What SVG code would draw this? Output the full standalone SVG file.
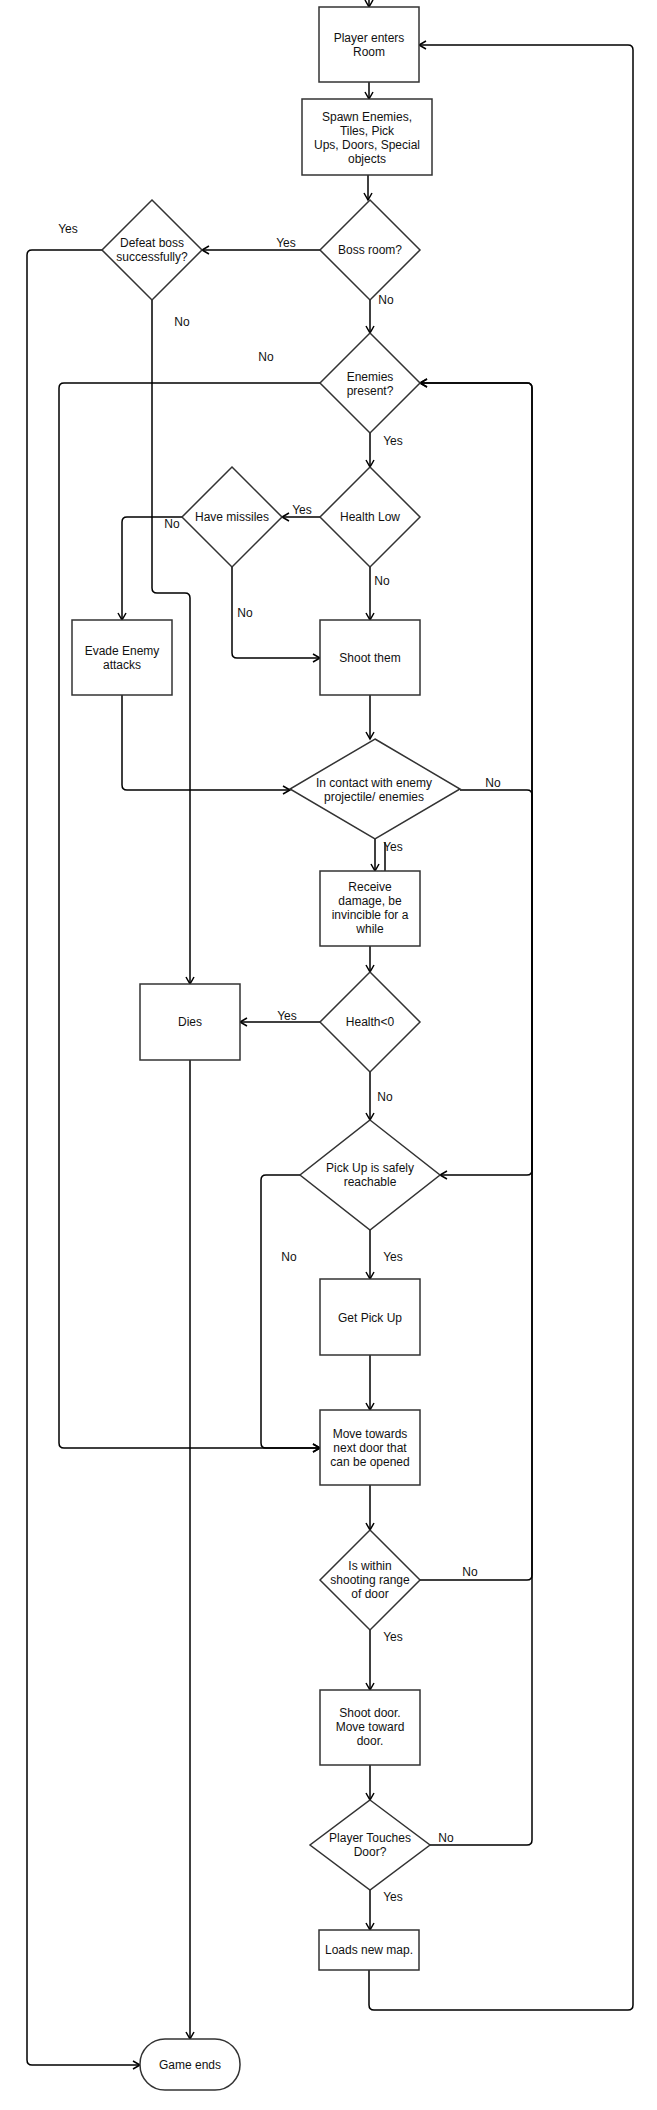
<svg xmlns="http://www.w3.org/2000/svg" width="657" height="2110" viewBox="0 0 657 2110">
<style>
.n{fill:#fff;stroke:#333;stroke-width:1.5}
.e{fill:none;stroke:#000;stroke-width:1.5}
.a{marker-end:url(#arr)}
text{font-family:"Liberation Sans",Arial,sans-serif;font-size:12px;fill:#111;text-anchor:middle}
</style>
<defs>
<marker id="arr" markerUnits="userSpaceOnUse" markerWidth="12" markerHeight="12" refX="8" refY="5" orient="auto">
<path d="M1,1 L8,5 L1,9" fill="none" stroke="#000" stroke-width="1.5"/>
</marker>
</defs>
<rect width="657" height="2110" fill="#fff"/>
<g id="connectors">
<path class="e a" d="M369 0 L369 7"/>
<path class="e a" d="M369 82 L369 99"/>
<path class="e a" d="M368 175 L368 200"/>
<path class="e a" d="M320 250 L202 250"/>
<path class="e a" d="M370 300 L370 333"/>
<path class="e a" d="M102 250 L32 250 Q27 250 27 255 L27 2060 Q27 2065 32 2065 L140 2065"/>
<path class="e a" d="M152 300 L152 588 Q152 593 157 593 L185 593 Q190 593 190 598 L190 984"/>
<path class="e a" d="M320 383 L64 383 Q59 383 59 388 L59 1443 Q59 1448 64 1448 L320 1448"/>
<path class="e a" d="M370 433 L370 467"/>
<path class="e a" d="M320 517 L282 517"/>
<path class="e a" d="M182 517 L127 517 Q122 517 122 522 L122 620"/>
<path class="e a" d="M232 567 L232 653 Q232 658 237 658 L320 658"/>
<path class="e a" d="M370 567 L370 620"/>
<path class="e a" d="M370 695 L370 739"/>
<path class="e a" d="M122 695 L122 785 Q122 790 127 790 L290 790"/>
<path class="e a" d="M375 839 L375 871"/>
<path class="e a" d="M385 842 L385 878"/>
<path class="e a" d="M460 790 L527 790 Q532 790 532 795 L532 1170 Q532 1175 527 1175 L440 1175"/>
<path class="e a" d="M370 946 L370 972"/>
<path class="e a" d="M320 1022 L240 1022"/>
<path class="e a" d="M370 1072 L370 1120"/>
<path class="e a" d="M301 1175 L266 1175 Q261 1175 261 1180 L261 1443 Q261 1448 266 1448 L320 1448"/>
<path class="e a" d="M370 1230 L370 1279"/>
<path class="e a" d="M370 1355 L370 1410"/>
<path class="e a" d="M370 1485 L370 1530"/>
<path class="e a" d="M420 1580 L527 1580 Q532 1580 532 1575 L532 388 Q532 383 527 383 L420 383"/>
<path class="e a" d="M370 1630 L370 1690"/>
<path class="e a" d="M370 1765 L370 1800"/>
<path class="e a" d="M430 1845 L527 1845 Q532 1845 532 1840 L532 388 Q532 383 527 383 L420 383"/>
<path class="e a" d="M370 1890 L370 1930"/>
<path class="e a" d="M369 1970 L369 2005 Q369 2010 374 2010 L628 2010 Q633 2010 633 2005 L633 50 Q633 45 628 45 L419 45"/>
<path class="e a" d="M190 1060 L190 2039"/>
</g>
<g id="edge-labels">
<text x="286" y="247">Yes</text>
<text x="68" y="233">Yes</text>
<text x="386" y="304">No</text>
<text x="182" y="326">No</text>
<text x="266" y="361">No</text>
<text x="393" y="445">Yes</text>
<text x="302" y="514">Yes</text>
<text x="172" y="528">No</text>
<text x="245" y="617">No</text>
<text x="382" y="585">No</text>
<text x="493" y="787">No</text>
<text x="393" y="851">Yes</text>
<text x="287" y="1020">Yes</text>
<text x="385" y="1101">No</text>
<text x="289" y="1261">No</text>
<text x="393" y="1261">Yes</text>
<text x="470" y="1576">No</text>
<text x="393" y="1641">Yes</text>
<text x="446" y="1842">No</text>
<text x="393" y="1901">Yes</text>
</g>
<g id="player-enters-room">
<rect class="n" x="319" y="7" width="100" height="75"/>
<text x="369" y="42">Player enters</text>
<text x="369" y="56">Room</text>
</g>
<g id="spawn">
<rect class="n" x="302" y="99" width="130" height="76"/>
<text x="367" y="121">Spawn Enemies,</text>
<text x="367" y="135">Tiles, Pick</text>
<text x="367" y="149">Ups, Doors, Special</text>
<text x="367" y="163">objects</text>
</g>
<g id="boss-room">
<polygon class="n" points="370,200 420,250 370,300 320,250"/>
<text x="370" y="254">Boss room?</text>
</g>
<g id="defeat-boss">
<polygon class="n" points="152,200 202,250 152,300 102,250"/>
<text x="152" y="247">Defeat boss</text>
<text x="152" y="261">successfully?</text>
</g>
<g id="enemies-present">
<polygon class="n" points="370,333 420,383 370,433 320,383"/>
<text x="370" y="381">Enemies</text>
<text x="370" y="395">present?</text>
</g>
<g id="health-low">
<polygon class="n" points="370,467 420,517 370,567 320,517"/>
<text x="370" y="521">Health Low</text>
</g>
<g id="have-missiles">
<polygon class="n" points="232,467 282,517 232,567 182,517"/>
<text x="232" y="521">Have missiles</text>
</g>
<g id="evade">
<rect class="n" x="72" y="620" width="100" height="75"/>
<text x="122" y="655">Evade Enemy</text>
<text x="122" y="669">attacks</text>
</g>
<g id="shoot-them">
<rect class="n" x="320" y="620" width="100" height="75"/>
<text x="370" y="662">Shoot them</text>
</g>
<g id="in-contact">
<polygon class="n" points="375,739 460,789 375,839 290,789"/>
<text x="374" y="787">In contact with enemy</text>
<text x="374" y="801">projectile/ enemies</text>
</g>
<g id="receive-damage">
<rect class="n" x="320" y="871" width="100" height="75"/>
<text x="370" y="891">Receive</text>
<text x="370" y="905">damage, be</text>
<text x="370" y="919">invincible for a</text>
<text x="370" y="933">while</text>
</g>
<g id="health-below-zero">
<polygon class="n" points="370,972 420,1022 370,1072 320,1022"/>
<text x="370" y="1026">Health&lt;0</text>
</g>
<g id="dies">
<rect class="n" x="140" y="984" width="100" height="76"/>
<text x="190" y="1026">Dies</text>
</g>
<g id="pickup-reachable">
<polygon class="n" points="370,1120 440,1175 370,1230 300,1175"/>
<text x="370" y="1172">Pick Up is safely</text>
<text x="370" y="1186">reachable</text>
</g>
<g id="get-pickup">
<rect class="n" x="320" y="1279" width="100" height="76"/>
<text x="370" y="1322">Get Pick Up</text>
</g>
<g id="move-towards">
<rect class="n" x="320" y="1410" width="100" height="75"/>
<text x="370" y="1438">Move towards</text>
<text x="370" y="1452">next door that</text>
<text x="370" y="1466">can be opened</text>
</g>
<g id="is-within-range">
<polygon class="n" points="370,1530 420,1580 370,1630 320,1580"/>
<text x="370" y="1570">Is within</text>
<text x="370" y="1584">shooting range</text>
<text x="370" y="1598">of door</text>
</g>
<g id="shoot-door">
<rect class="n" x="320" y="1690" width="100" height="75"/>
<text x="370" y="1717">Shoot door.</text>
<text x="370" y="1731">Move toward</text>
<text x="370" y="1745">door.</text>
</g>
<g id="player-touches-door">
<polygon class="n" points="370,1800 430,1845 370,1890 310,1845"/>
<text x="370" y="1842">Player Touches</text>
<text x="370" y="1856">Door?</text>
</g>
<g id="loads-new-map">
<rect class="n" x="319" y="1930" width="100" height="40"/>
<text x="369" y="1954">Loads new map.</text>
</g>
<g id="game-ends">
<rect class="n" x="140" y="2039" width="100" height="51" rx="25" ry="25"/>
<text x="190" y="2069">Game ends</text>
</g>
</svg>
